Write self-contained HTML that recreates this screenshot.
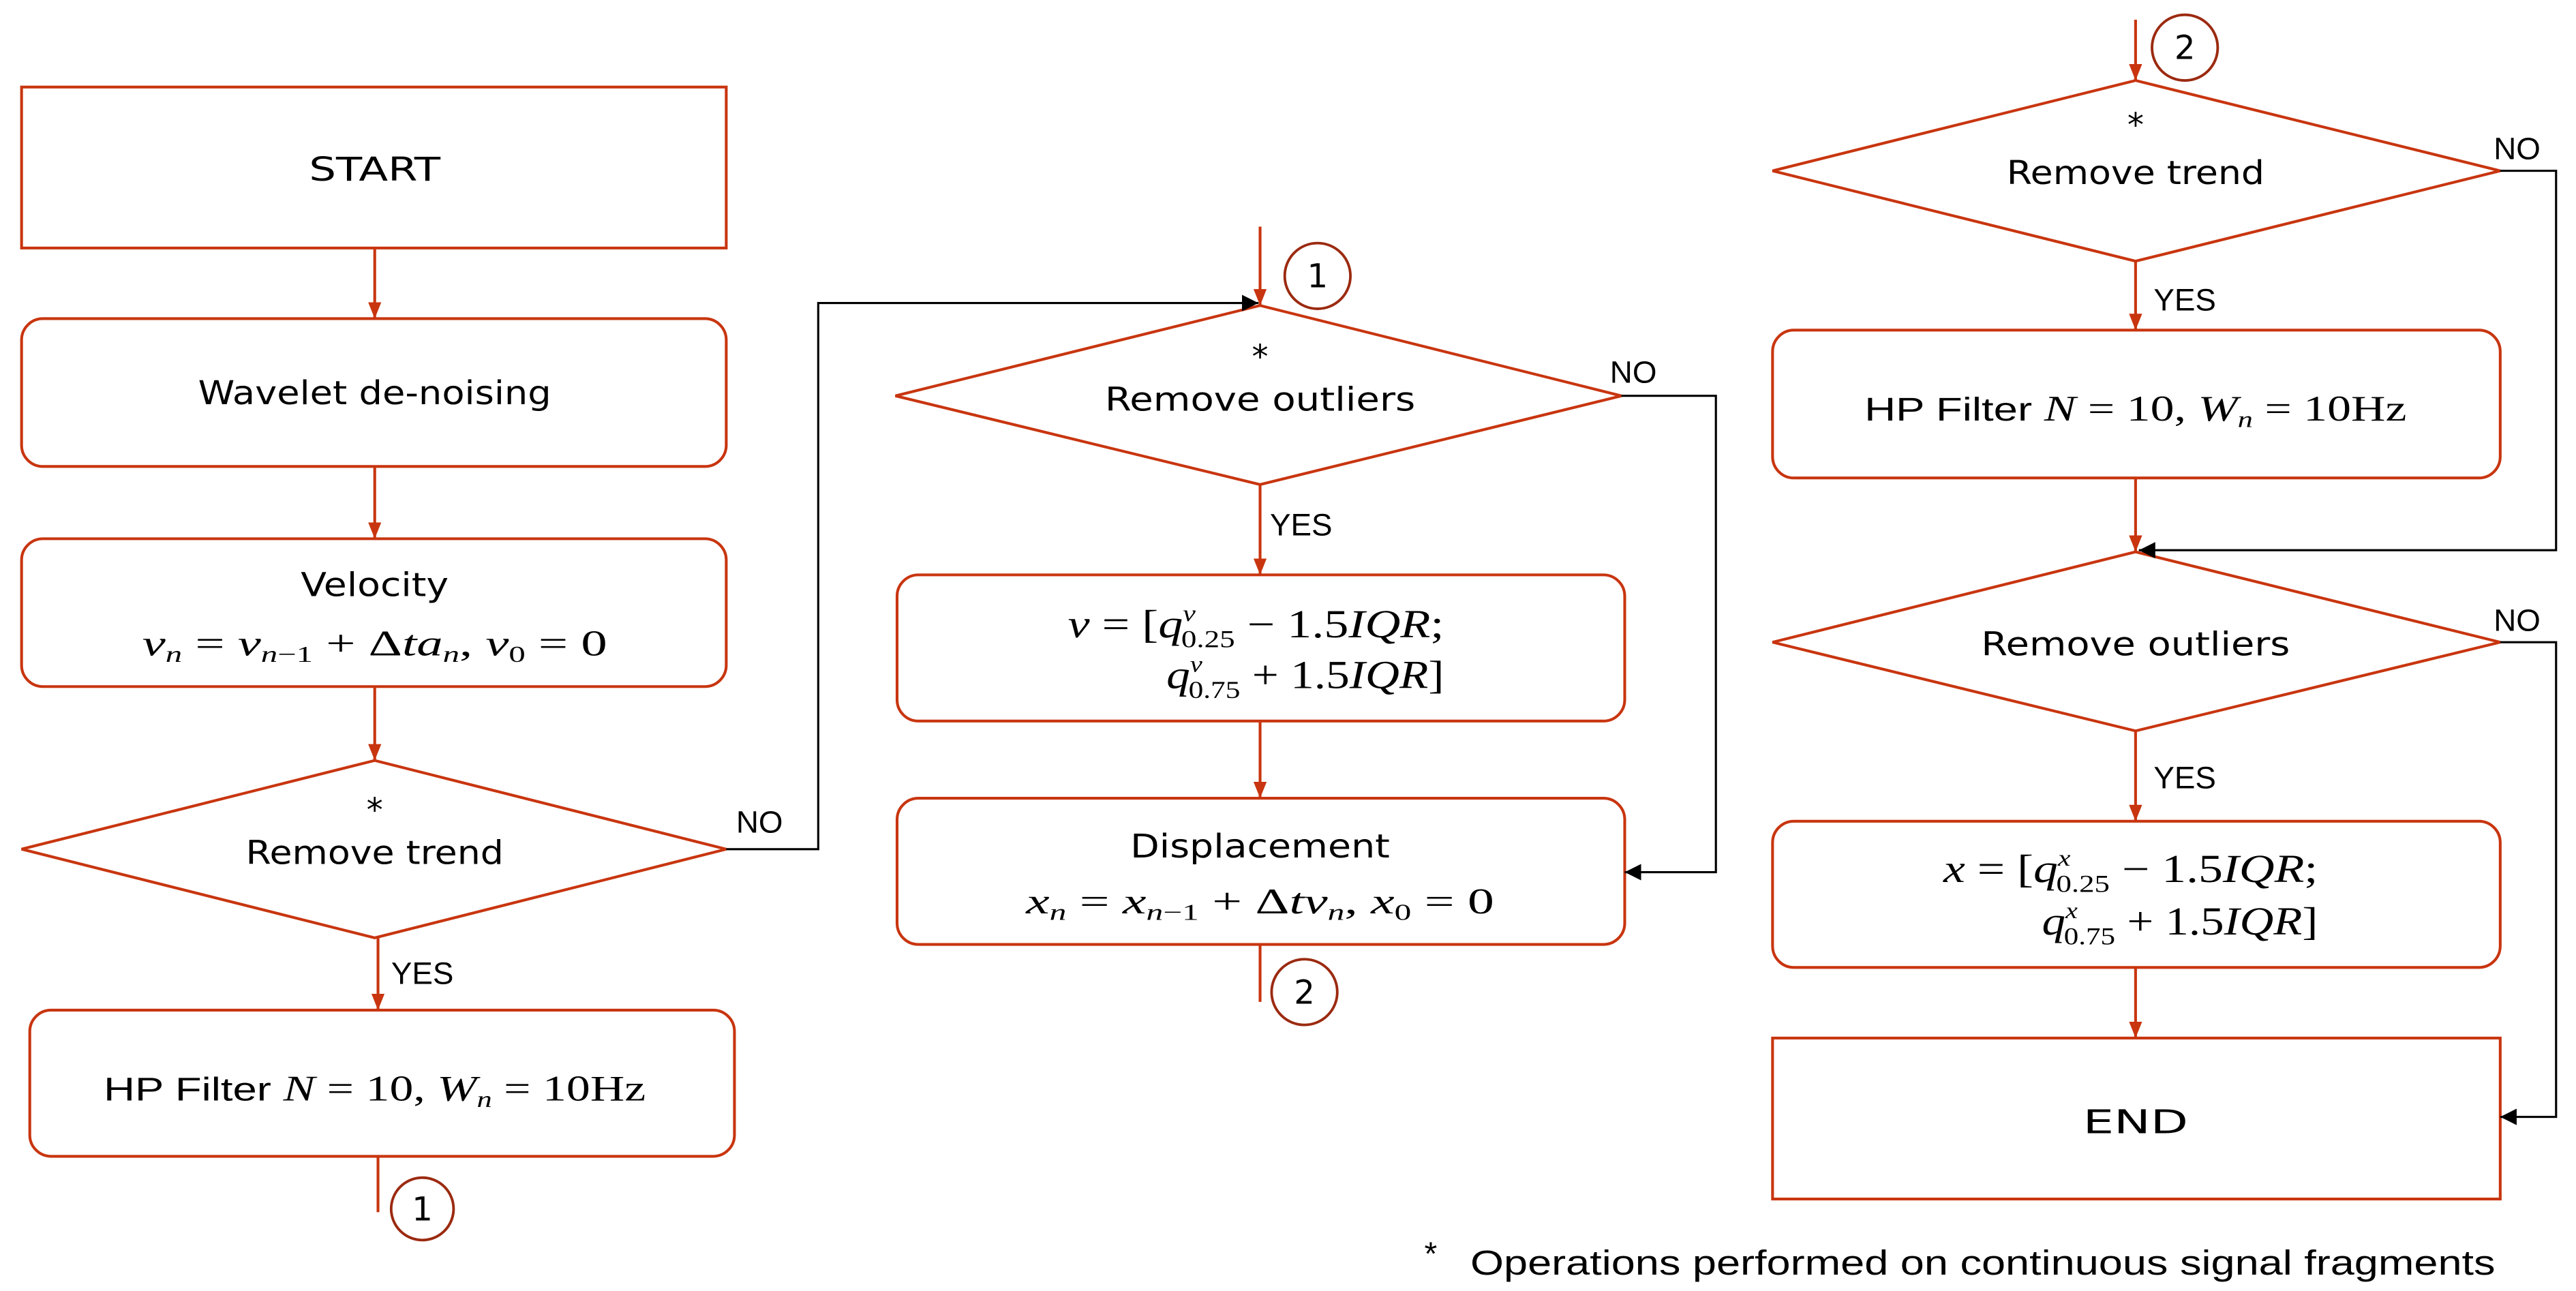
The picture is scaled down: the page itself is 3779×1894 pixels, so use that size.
<!DOCTYPE html>
<html><head><meta charset="utf-8"><style>html,body{margin:0;padding:0;background:#fff}svg{display:block}</style></head>
<body>
<svg width="3779" height="1894" viewBox="0 0 1568 786" xmlns="http://www.w3.org/2000/svg">
<defs>
<marker id="r" markerWidth="10" markerHeight="8" refX="10" refY="4" orient="auto" markerUnits="userSpaceOnUse"><path d="M0,0 L10,4 L0,8 z" fill="#C8350F"/></marker>
<marker id="k" markerWidth="10" markerHeight="10" refX="10" refY="5" orient="auto" markerUnits="userSpaceOnUse"><path d="M0,0 L10,5 L0,10 z" fill="#000"/></marker>
</defs>
<g fill="none" stroke="#C8350F" stroke-width="1.7">
<rect x="13" y="53" width="429" height="98"/>
<rect x="13" y="194" width="429" height="90" rx="13"/>
<rect x="13" y="328" width="429" height="90" rx="13"/>
<polygon points="228,463 442,517 228,571 13,517"/>
<rect x="18" y="615" width="429" height="89" rx="13"/>
<line x1="228" y1="151" x2="228" y2="194" marker-end="url(#r)"/>
<line x1="228" y1="284" x2="228" y2="328" marker-end="url(#r)"/>
<line x1="228" y1="418" x2="228" y2="463" marker-end="url(#r)"/>
<line x1="230" y1="571" x2="230" y2="615" marker-end="url(#r)"/>
<line x1="230" y1="704" x2="230" y2="738"/>
<polygon points="767,186 987,241 767,295 545,241"/>
<rect x="546" y="350" width="443" height="89" rx="13"/>
<rect x="546" y="486" width="443" height="89" rx="13"/>
<line x1="767" y1="138" x2="767" y2="186" marker-end="url(#r)"/>
<line x1="767" y1="295" x2="767" y2="350" marker-end="url(#r)"/>
<line x1="767" y1="439" x2="767" y2="486" marker-end="url(#r)"/>
<line x1="767" y1="575" x2="767" y2="610"/>
<polygon points="1300,49 1522,104 1300,159 1079,104"/>
<rect x="1079" y="201" width="443" height="90" rx="13"/>
<polygon points="1300,336 1522,391 1300,445 1079,391"/>
<rect x="1079" y="500" width="443" height="89" rx="13"/>
<rect x="1079" y="632" width="443" height="98"/>
<line x1="1300" y1="12" x2="1300" y2="49" marker-end="url(#r)"/>
<line x1="1300" y1="159" x2="1300" y2="201" marker-end="url(#r)"/>
<line x1="1300" y1="291" x2="1300" y2="336" marker-end="url(#r)"/>
<line x1="1300" y1="445" x2="1300" y2="500" marker-end="url(#r)"/>
<line x1="1300" y1="589" x2="1300" y2="632" marker-end="url(#r)"/>
</g>
<g fill="none" stroke="#000" stroke-width="1.3">
<polyline points="442,517 498,517 498,184.5 766,184.5" marker-end="url(#k)"/>
<polyline points="987,241 1044.5,241 1044.5,531 989,531" marker-end="url(#k)"/>
<polyline points="1522,104 1556,104 1556,335 1302,335" marker-end="url(#k)"/>
<polyline points="1522,391 1556,391 1556,680 1522,680" marker-end="url(#k)"/>
</g>
<g fill="none" stroke="#9B2A10" stroke-width="1.6">
<circle cx="257" cy="736" r="19"/>
<circle cx="802" cy="168" r="20"/>
<circle cx="794" cy="604" r="20"/>
<circle cx="1330" cy="29" r="20"/>
</g>
<g font-family="'DejaVu Sans','Liberation Sans',sans-serif" font-size="20" fill="#000" text-anchor="middle">
<text x="257" y="743">1</text>
<text x="802" y="175">1</text>
<text x="794" y="611">2</text>
<text x="1330" y="36">2</text>
<text x="228" y="110" textLength="80" lengthAdjust="spacingAndGlyphs">START</text>
<text x="228" y="246" textLength="215" lengthAdjust="spacingAndGlyphs">Wavelet de-noising</text>
<text x="228" y="363" textLength="90" lengthAdjust="spacingAndGlyphs">Velocity</text>
<text x="228" y="500">*</text>
<text x="228" y="526" textLength="157" lengthAdjust="spacingAndGlyphs">Remove trend</text>
<text x="767" y="224">*</text>
<text x="767" y="250" textLength="189" lengthAdjust="spacingAndGlyphs">Remove outliers</text>
<text x="767" y="522" textLength="158" lengthAdjust="spacingAndGlyphs">Displacement</text>
<text x="1300" y="83">*</text>
<text x="1300" y="112" textLength="157" lengthAdjust="spacingAndGlyphs">Remove trend</text>
<text x="1300" y="399" textLength="188" lengthAdjust="spacingAndGlyphs">Remove outliers</text>
<text x="1300" y="690" textLength="64" lengthAdjust="spacingAndGlyphs">END</text>
</g>
<g font-family="'Liberation Sans',sans-serif" font-size="19" fill="#000">
<text x="448" y="507">NO</text>
<text x="238" y="599">YES</text>
<text x="980" y="233">NO</text>
<text x="773" y="326">YES</text>
<text x="1518" y="97">NO</text>
<text x="1311" y="189">YES</text>
<text x="1518" y="384">NO</text>
<text x="1311" y="480">YES</text>
<text x="867" y="770" font-size="20">*</text>
<text x="895" y="776" font-size="21" textLength="624" lengthAdjust="spacingAndGlyphs">Operations performed on continuous signal fragments</text>
</g>
<g font-family="'Liberation Serif',serif" font-size="22" fill="#000" text-anchor="middle">
<text x="228" y="399" textLength="283" lengthAdjust="spacingAndGlyphs"><tspan font-style="italic">v</tspan><tspan font-size="14" font-style="italic" dy="4">n</tspan><tspan dy="-4"> = </tspan><tspan font-style="italic">v</tspan><tspan font-size="14" font-style="italic" dy="4">n</tspan><tspan font-size="14" dy="0">−1</tspan><tspan dy="-4"> + Δ</tspan><tspan font-style="italic">ta</tspan><tspan font-size="14" font-style="italic" dy="4">n</tspan><tspan dy="-4">, </tspan><tspan font-style="italic">v</tspan><tspan font-size="14" dy="4">0</tspan><tspan dy="-4"> = 0</tspan></text>
<text x="767" y="556" textLength="285" lengthAdjust="spacingAndGlyphs"><tspan font-style="italic">x</tspan><tspan font-size="14" font-style="italic" dy="4">n</tspan><tspan dy="-4"> = </tspan><tspan font-style="italic">x</tspan><tspan font-size="14" font-style="italic" dy="4">n</tspan><tspan font-size="14">−1</tspan><tspan dy="-4"> + Δ</tspan><tspan font-style="italic">tv</tspan><tspan font-size="14" font-style="italic" dy="4">n</tspan><tspan dy="-4">, </tspan><tspan font-style="italic">x</tspan><tspan font-size="14" dy="4">0</tspan><tspan dy="-4"> = 0</tspan></text>
</g>
<g font-family="'Liberation Sans',sans-serif" font-size="20" fill="#000" text-anchor="middle">
<text x="228" y="670" textLength="330" lengthAdjust="spacingAndGlyphs">HP Filter <tspan font-family="'Liberation Serif',serif" font-style="italic" font-size="22">N</tspan><tspan font-family="'Liberation Serif',serif" font-size="22"> = 10, </tspan><tspan font-family="'Liberation Serif',serif" font-style="italic" font-size="22">W</tspan><tspan font-family="'Liberation Serif',serif" font-style="italic" font-size="14" dy="4">n</tspan><tspan font-family="'Liberation Serif',serif" font-size="22" dy="-4"> = 10Hz</tspan></text>
<text x="1300" y="256" textLength="330" lengthAdjust="spacingAndGlyphs">HP Filter <tspan font-family="'Liberation Serif',serif" font-style="italic" font-size="22">N</tspan><tspan font-family="'Liberation Serif',serif" font-size="22"> = 10, </tspan><tspan font-family="'Liberation Serif',serif" font-style="italic" font-size="22">W</tspan><tspan font-family="'Liberation Serif',serif" font-style="italic" font-size="14" dy="4">n</tspan><tspan font-family="'Liberation Serif',serif" font-size="22" dy="-4"> = 10Hz</tspan></text>
</g>
<g font-family="'Liberation Serif',serif" font-size="24" fill="#000">
<text x="650" y="388" textLength="229" lengthAdjust="spacingAndGlyphs"><tspan font-style="italic">v</tspan> = [<tspan font-style="italic">q</tspan><tspan font-size="14" font-style="italic" dy="-10">v</tspan><tspan font-size="15" dx="-7" dy="16">0.25</tspan><tspan dy="-6"> − 1.5</tspan><tspan font-style="italic">IQR</tspan>;</text>
<text x="710" y="419" textLength="169" lengthAdjust="spacingAndGlyphs"><tspan font-style="italic">q</tspan><tspan font-size="14" font-style="italic" dy="-10">v</tspan><tspan font-size="15" dx="-7" dy="16">0.75</tspan><tspan dy="-6"> + 1.5</tspan><tspan font-style="italic">IQR</tspan>]</text>
<text x="1183" y="537" textLength="228" lengthAdjust="spacingAndGlyphs"><tspan font-style="italic">x</tspan> = [<tspan font-style="italic">q</tspan><tspan font-size="14" font-style="italic" dy="-10">x</tspan><tspan font-size="15" dx="-7" dy="16">0.25</tspan><tspan dy="-6"> − 1.5</tspan><tspan font-style="italic">IQR</tspan>;</text>
<text x="1243" y="569" textLength="168" lengthAdjust="spacingAndGlyphs"><tspan font-style="italic">q</tspan><tspan font-size="14" font-style="italic" dy="-10">x</tspan><tspan font-size="15" dx="-7" dy="16">0.75</tspan><tspan dy="-6"> + 1.5</tspan><tspan font-style="italic">IQR</tspan>]</text>
</g>
</svg>
</body></html>
